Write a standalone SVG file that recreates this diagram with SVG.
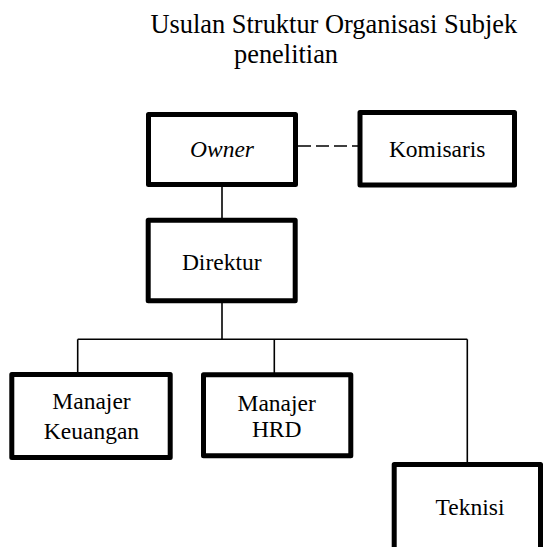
<svg xmlns="http://www.w3.org/2000/svg" width="543" height="547" viewBox="0 0 543 547">
<style>
.box{fill:#fff;stroke:#000;stroke-width:5;stroke-linejoin:round}
.title{font-family:"Liberation Serif","Times New Roman",serif;font-size:26.4px;fill:#000}
.lbl{font-family:"Liberation Serif","Times New Roman",serif;font-size:23.5px;fill:#000}
.ln{stroke:#000;stroke-width:1.6;fill:none}
.dash{stroke:#000;stroke-width:1.6;fill:none;stroke-dasharray:13 5}
</style>
<rect width="543" height="547" fill="#fff"/>
<g id="title">
<text class="title" x="150.5" y="33.3">Usulan Struktur Organisasi Subjek</text>
<text class="title" x="234" y="63.3">penelitian</text>
</g>
<g id="connectors">
<line class="dash" x1="298" y1="146" x2="358" y2="146"/>
<line class="ln" x1="222" y1="187" x2="222" y2="219"/>
<line class="ln" x1="222" y1="302" x2="222" y2="339.3"/>
<line class="ln" x1="77.7" y1="339.3" x2="467.3" y2="339.3"/>
<line class="ln" x1="77.7" y1="339.3" x2="77.7" y2="373"/>
<line class="ln" x1="274.3" y1="339.3" x2="274.3" y2="373"/>
<line class="ln" x1="467.3" y1="339.3" x2="467.3" y2="463"/>
</g>
<g id="owner">
<rect class="box" x="148.5" y="114.5" width="147" height="70"/>
<text class="lbl" x="222" y="157.3" text-anchor="middle" font-style="italic">Owner</text>
</g>
<g id="komisaris">
<rect class="box" x="360" y="112.5" width="154.5" height="72.5"/>
<text class="lbl" x="437.2" y="156.7" text-anchor="middle">Komisaris</text>
</g>
<g id="direktur">
<rect class="box" x="148.2" y="220.2" width="147" height="80.6"/>
<text class="lbl" x="221.7" y="270" text-anchor="middle">Direktur</text>
</g>
<g id="manajer-keuangan">
<rect class="box" x="11.8" y="374.5" width="158.4" height="83"/>
<text class="lbl" x="91.5" y="408.5" text-anchor="middle">Manajer</text>
<text class="lbl" x="91.5" y="438.5" text-anchor="middle">Keuangan</text>
</g>
<g id="manajer-hrd">
<rect class="box" x="203.5" y="374.8" width="147.3" height="81"/>
<text class="lbl" x="276.7" y="411" text-anchor="middle">Manajer</text>
<text class="lbl" x="276.7" y="437.3" text-anchor="middle">HRD</text>
</g>
<g id="teknisi">
<rect class="box" x="394.2" y="464.5" width="146.3" height="100"/>
<text class="lbl" x="470" y="515" text-anchor="middle">Teknisi</text>
</g>
</svg>
